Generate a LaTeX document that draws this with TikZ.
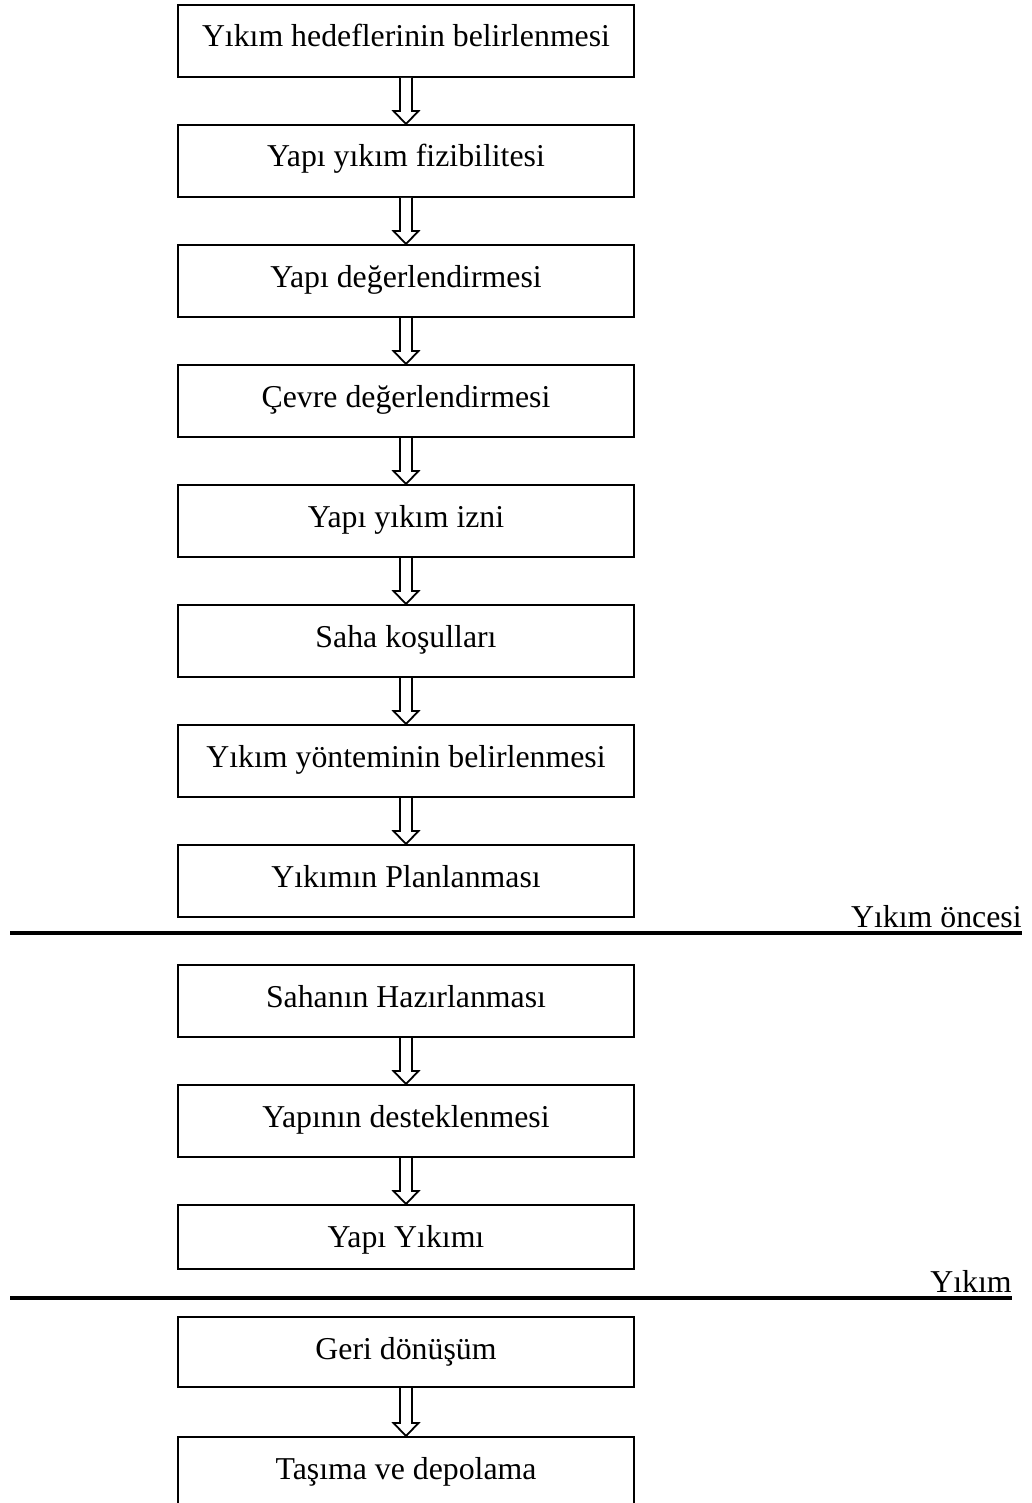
\documentclass[tikz,border=0pt]{standalone}
\usepackage{fontspec}
\setmainfont{Liberation Serif}
\usetikzlibrary{calc}
\tikzset{
  stepbox/.style={draw=black, line width=1pt, minimum width=228pt, inner sep=0pt,
    text height=21pt, text depth=15pt, font=\fontsize{15.9}{19}\selectfont},
  hollowarrow/.style={draw=black, line width=0.9pt, fill=white, line join=miter},
  sepline/.style={draw=black, line width=1.6pt},
  seplabel/.style={anchor=base east, inner sep=0pt, font=\fontsize{15.9}{19}\selectfont}
}
\newcommand{\blockarrow}[2]{%
  \draw[hollowarrow] ($(#1.south)+(-6,0)$) -- ($(#2.north)+(-6,-13)$) -- ($(#2.north)+(-12.5,-13)$)
    -- (#2.north) -- ($(#2.north)+(12.5,-13)$) -- ($(#2.north)+(6,-13)$) -- ($(#1.south)+(6,0)$);}
\begin{document}
\begin{tikzpicture}[x=0.5pt,y=-0.5pt]
\useasboundingbox (0,0) rectangle (1032,1503);
\node[stepbox] (b1) at (406,41) {Yıkım hedeflerinin belirlenmesi};
\node[stepbox] (b2) at (406,161) {Yapı yıkım fizibilitesi};
\node[stepbox] (b3) at (406,281) {Yapı değerlendirmesi};
\node[stepbox] (b4) at (406,401) {Çevre değerlendirmesi};
\node[stepbox] (b5) at (406,521) {Yapı yıkım izni};
\node[stepbox] (b6) at (406,641) {Saha koşulları};
\node[stepbox] (b7) at (406,761) {Yıkım yönteminin belirlenmesi};
\node[stepbox] (b8) at (406,881) {Yıkımın Planlanması};
\node[stepbox] (b9) at (406,1001) {Sahanın Hazırlanması};
\node[stepbox] (b10) at (406,1121) {Yapının desteklenmesi};
\node[stepbox, text depth=11pt] (b11) at (406,1237) {Yapı Yıkımı};
\node[stepbox, text depth=14pt] (b12) at (406,1352) {Geri dönüşüm};
\node[stepbox] (b13) at (406,1473) {Taşıma ve depolama};
\foreach \a/\b in {b1/b2,b2/b3,b3/b4,b4/b5,b5/b6,b6/b7,b7/b8,b9/b10,b10/b11,b12/b13}{\blockarrow{\a}{\b}}
\coordinate (l1s) at (10,933);
\coordinate (l1e) at (1022,933);
\draw[sepline] (l1s) -- (l1e);
\node[seplabel] (lab1) at (1022,927) {Yıkım öncesi};
\coordinate (l2s) at (10,1298);
\coordinate (l2e) at (1012,1298);
\draw[sepline] (l2s) -- (l2e);
\node[seplabel] (lab2) at (1012,1292) {Yıkım};
\end{tikzpicture}
\end{document}
